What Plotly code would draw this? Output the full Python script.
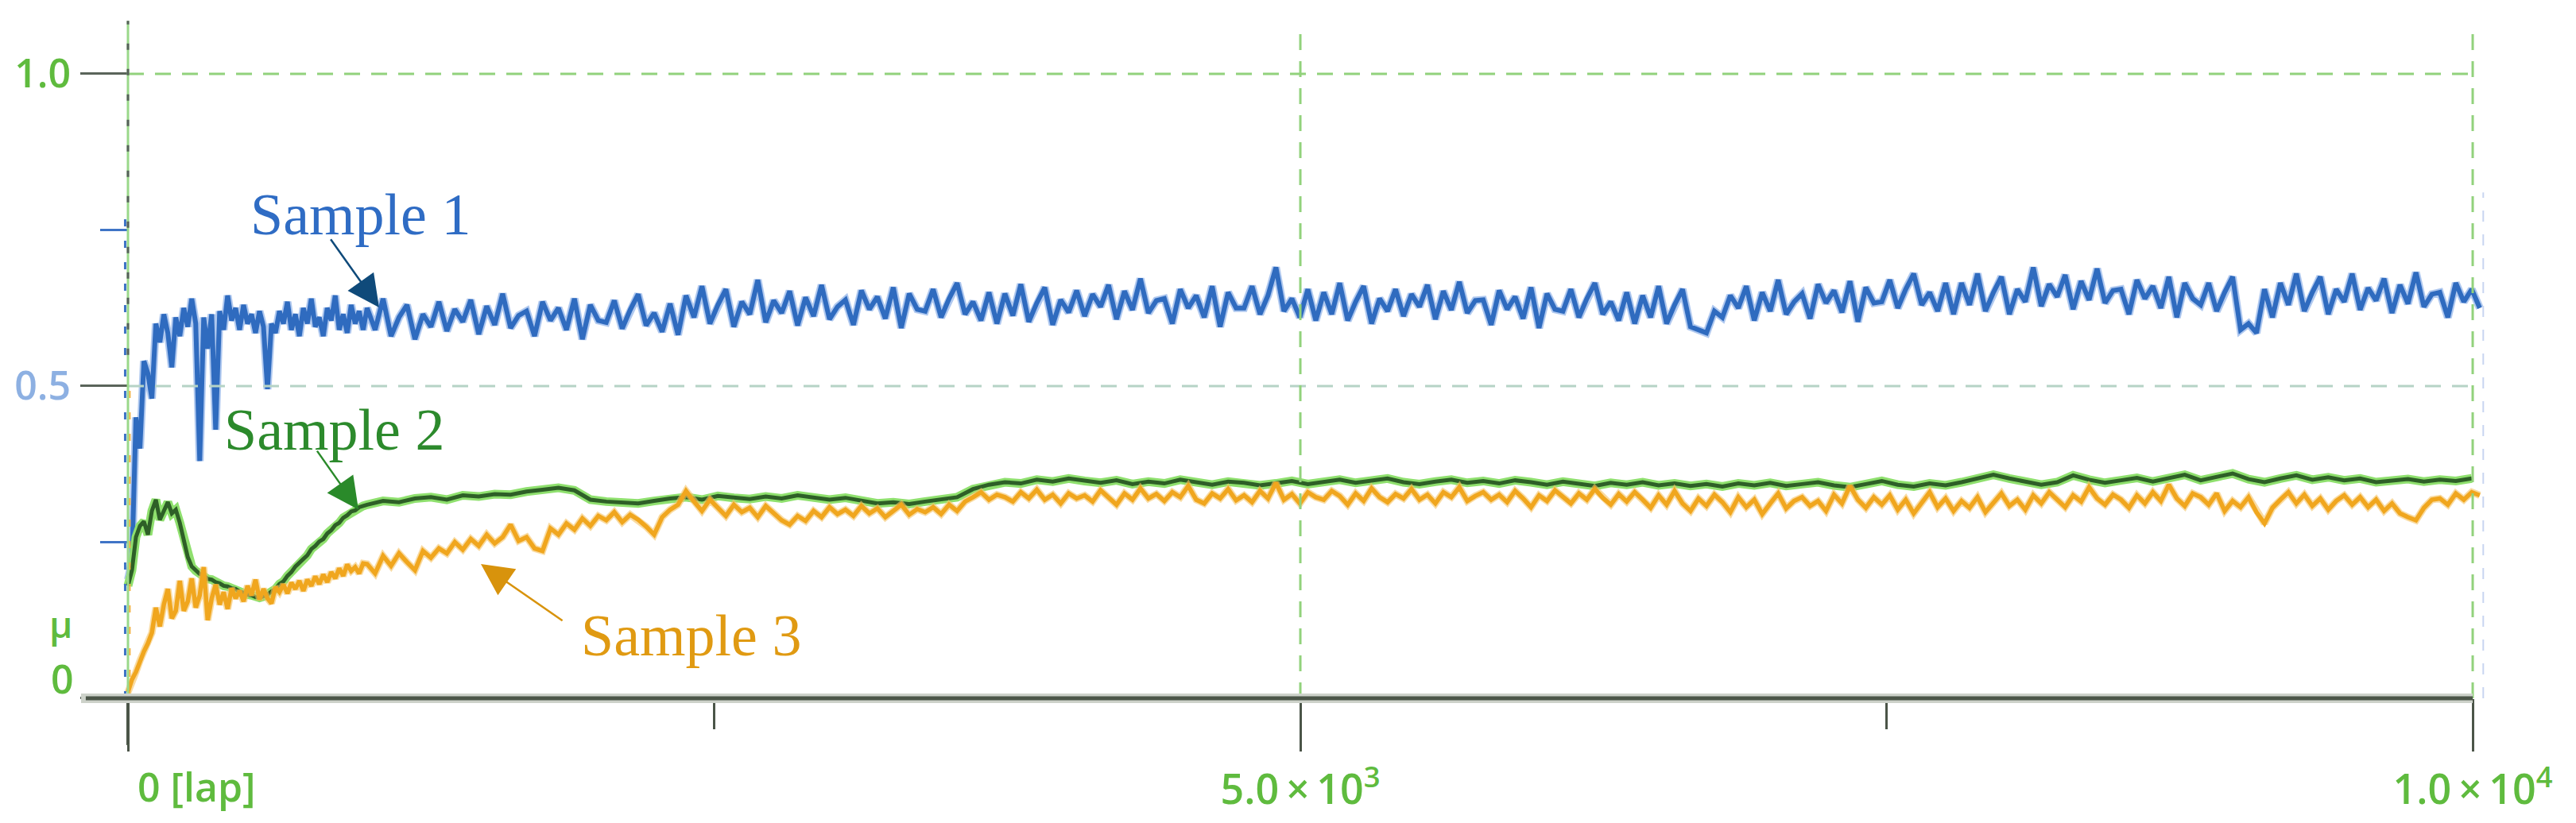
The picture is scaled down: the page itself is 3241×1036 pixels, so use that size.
import numpy as np
import plotly.graph_objects as go

# laps: first ~1000 laps read every 17 laps, the rest every 34 (sample 2 every 68)
EARLY_STEP = 17
LATE_START = 1020
LATE_STEP = 34
LATE_STEP_S2 = 68

# friction coefficient mu, in thousandths
s1_early = [190, 220, 450, 400, 540, 520, 480, 600, 570, 615,
            585, 530, 610, 580, 625, 595, 640, 600, 380, 610,
            560, 615, 430, 620, 590, 645, 605, 625, 590, 630,
            600, 615, 585, 620, 595, 495, 600, 585, 620, 600,
            635, 590, 615, 580, 625, 600, 640, 595, 610, 580,
            625, 605, 645, 590, 615, 585, 630, 600, 620, 590]
s1_late = [625, 590, 640, 580, 610, 630, 575, 615, 595, 635,
           588, 623, 603, 638, 583, 628, 598, 648, 593, 613,
           620, 580, 635, 605, 625, 590, 640, 575, 630, 605,
           602, 637, 592, 622, 647, 597, 617, 587, 632, 582,
           645, 610, 660, 600, 630, 655, 595, 635, 615, 670,
           602, 637, 617, 652, 597, 642, 612, 662, 607, 627,
           638, 598, 653, 623, 643, 608, 658, 593, 648, 623,
           620, 655, 610, 640, 665, 615, 635, 605, 650, 600,
           648, 613, 663, 603, 633, 658, 598, 638, 618, 653,
           612, 647, 627, 662, 607, 652, 622, 672, 617, 637,
           640, 600, 655, 625, 645, 610, 660, 595, 650, 625,
           625, 660, 615, 645, 690, 620, 640, 610, 655, 605,
           650, 615, 665, 605, 635, 660, 600, 640, 620, 655,
           612, 647, 627, 662, 607, 652, 622, 667, 617, 637,
           638, 598, 653, 623, 643, 608, 658, 593, 648, 623,
           620, 655, 610, 640, 665, 615, 635, 605, 650, 600,
           645, 610, 660, 600, 630, 655, 595, 590, 585, 620,
           610, 645, 625, 660, 605, 650, 620, 670, 615, 635,
           648, 608, 663, 633, 653, 618, 668, 603, 658, 633,
           635, 670, 625, 655, 680, 630, 650, 620, 665, 615,
           665, 630, 680, 620, 650, 675, 615, 655, 635, 690,
           628, 663, 643, 678, 623, 668, 638, 688, 633, 653,
           655, 615, 670, 640, 660, 625, 675, 610, 665, 640,
           630, 665, 620, 650, 675, 590, 600, 585, 655, 610,
           665, 630, 680, 620, 650, 675, 615, 655, 635, 680,
           622, 657, 637, 672, 617, 662, 632, 682, 627, 647,
           650, 610, 665, 635, 655, 625]

s2_early = [180, 205, 258, 276, 283, 262, 300, 318, 286, 301,
            314, 296, 302, 281, 254, 226, 211, 204, 199, 197,
            191, 190, 186, 184, 180, 179, 176, 175, 171, 169,
            166, 165, 162, 161, 163, 166, 171, 175, 183, 187,
            196, 202, 211, 216, 223, 229, 239, 244, 251, 255,
            264, 269, 277, 281, 289, 293, 299, 301, 306, 308]
s2_late = [310, 316, 314, 320, 322, 318, 325, 323, 327, 326,
           331, 334, 337, 333, 318, 315, 314, 312, 316, 320,
           322, 318, 324, 321, 319, 323, 320, 325, 322, 318,
           321, 316, 312, 314, 311, 315, 318, 322, 335, 342,
           346, 344, 350, 347, 352, 348, 345, 349, 343, 347,
           344, 350, 346, 342, 347, 345, 341, 344, 348, 343,
           346, 350, 345, 348, 352, 346, 343, 347, 350, 345,
           348, 344, 349, 346, 342, 347, 344, 340, 345, 342,
           346, 341, 344, 340, 343, 339, 344, 341, 345, 340,
           343, 346, 341, 338, 343, 348, 342, 339, 344, 341,
           346, 352, 358, 352, 347, 342, 346, 357, 350, 345,
           349, 353, 347, 352, 358, 349, 354, 360, 351, 346,
           352, 357, 350, 354, 349, 352, 346, 349, 351, 347,
           350, 348, 352]

s3_early = [10, 30, 42, 60, 75, 88, 105, 145, 115, 150,
            175, 128, 140, 188, 140, 155, 192, 145, 165, 210,
            125, 160, 182, 150, 170, 143, 176, 160, 172, 155,
            180, 165, 190, 158, 175, 160, 152, 178, 170, 182,
            168, 185, 175, 188, 172, 190, 180, 195, 183, 198,
            186, 202, 192, 208, 196, 214, 204, 210, 200, 216]
s3_late = [215, 200, 228, 212, 232, 218, 205, 236, 225, 240,
           232, 250, 238, 255, 244, 262, 248, 258, 278, 252,
           258, 240, 236, 272, 262, 280, 270, 288, 276, 292,
           285, 298, 282, 294, 286, 275, 262, 290, 302, 310,
           332, 315, 300, 318, 306, 292, 310, 298, 305, 290,
           308, 296, 285, 278, 292, 284, 300, 290, 306, 295,
           302, 292, 308, 296, 304, 290, 299, 310, 294, 303,
           298, 306, 295, 310, 300, 315, 322, 330, 318, 326,
           322, 315, 330, 320, 334, 318, 326, 312, 328, 320,
           325, 315, 333, 322, 310, 328, 318, 336, 320, 327,
           316, 330, 322, 340, 318, 312, 328, 320, 335, 317,
           325, 314, 332, 320, 345, 318, 327, 312, 330, 322,
           318, 332, 324, 310, 328, 316, 336, 322, 314, 327,
           320, 335, 318, 326, 312, 330, 322, 338, 316, 324,
           330, 318, 326, 314, 332, 320, 306, 325, 316, 333,
           322, 312, 328, 318, 335, 321, 310, 327, 315, 330,
           318, 305, 325, 310, 332, 312, 300, 320, 308, 326,
           314, 298, 322, 306, 318, 295, 312, 328, 304, 316,
           322, 308, 316, 300, 326, 312, 340, 318, 305, 322,
           310, 325, 302, 318, 296, 314, 330, 306, 320, 300,
           316, 305, 322, 298, 312, 328, 308, 318, 302, 325,
           312, 330, 318, 306, 325, 315, 338, 320, 310, 326,
           318, 305, 325, 312, 330, 316, 342, 320, 308, 328,
           322, 310, 328, 300, 316, 306, 322, 298, 280, 305,
           318, 330, 312, 326, 308, 320, 302, 316, 325, 310,
           322, 306, 318, 300, 312, 296, 290, 285, 305, 318,
           320, 310, 328, 318, 330, 325]

x_tickvals = [0, 5000, 10000]
x_ticktext = ["", "5.0\u2009×\u200910<sup>3</sup>", "1.0\u2009×\u200910<sup>4</sup>"]
x_minor = [2500, 7500]
y_tickvals = [0, 0.5, 1.0]
y_ticktext = ["", '<span style="color:#8db0e2">0.5</span>', "1.0"]
y_minor = [0.25, 0.75]

GREEN_TXT = "#5fbb3e"
AXIS = "#4b5548"


def laps(early, late, late_step):
    xe = np.arange(len(early)) * EARLY_STEP
    xl = LATE_START + np.arange(len(late)) * late_step
    return np.concatenate([xe, xl])


x1 = laps(s1_early, s1_late, LATE_STEP)
x2 = laps(s2_early, s2_late, LATE_STEP_S2)
x3 = laps(s3_early, s3_late, LATE_STEP)
y1 = np.array(s1_early + s1_late) / 1000
y2 = np.array(s2_early + s2_late) / 1000
y3 = np.array(s3_early + s3_late) / 1000

fig = go.Figure()

# sample 1 (soft edge + core)
fig.add_trace(go.Scatter(x=x1, y=y1, mode="lines", showlegend=False,
                         line=dict(color="rgba(110,155,225,0.55)", width=10)))
fig.add_trace(go.Scatter(x=x1, y=y1, mode="lines", name="Sample 1",
                         line=dict(color="#2f6bbf", width=6)))
# sample 2 (light halo + dark core)
fig.add_trace(go.Scatter(x=x2, y=y2, mode="lines", showlegend=False,
                         line=dict(color="#8fe06e", width=11)))
fig.add_trace(go.Scatter(x=x2, y=y2, mode="lines", name="Sample 2",
                         line=dict(color="#2e5f27", width=5)))
# sample 3
fig.add_trace(go.Scatter(x=x3, y=y3, mode="lines", showlegend=False,
                         line=dict(color="rgba(245,195,100,0.6)", width=9)))
fig.add_trace(go.Scatter(x=x3, y=y3, mode="lines", name="Sample 3",
                         line=dict(color="#f0a61e", width=5.5)))

shapes = []
# dashed grid
shapes.append(dict(type="line", x0=0, x1=10000, y0=1.0, y1=1.0,
                   line=dict(color="#92d27c", width=3, dash="20px,14px")))
shapes.append(dict(type="line", x0=0, x1=10000, y0=0.5, y1=0.5,
                   line=dict(color="#b6d3c6", width=3, dash="20px,14px")))
for xv in [5000, 10000]:
    shapes.append(dict(type="line", x0=xv, x1=xv, y0=0, y1=1.07,
                       line=dict(color="#92d27c", width=3, dash="20px,14px")))
shapes.append(dict(type="line", x0=10045, x1=10045, y0=0, y1=0.81,
                   line=dict(color="#c8d5f0", width=2, dash="14px,16px")))
# y axis
shapes.append(dict(type="line", x0=0, x1=0, y0=-0.075, y1=1.085,
                   line=dict(color="#9ad88a", width=3)))
shapes.append(dict(type="line", x0=0, x1=0, y0=0.55, y1=1.085,
                   line=dict(color="#56605a", width=3, dash="8px,24px")))
shapes.append(dict(type="line", x0=-12, x1=-12, y0=0.0, y1=0.78,
                   line=dict(color="#3f74c6", width=3, dash="9px,18px")))
shapes.append(dict(type="line", x0=8, x1=8, y0=0.0, y1=0.5,
                   line=dict(color="#f0b040", width=2, dash="9px,18px")))
shapes.append(dict(type="line", x0=0, x1=0, y0=-0.075, y1=0,
                   line=dict(color=AXIS, width=4)))
# x axis
shapes.append(dict(type="line", x0=-200, x1=10000, y0=0, y1=0,
                   line=dict(color="#cdd2ca", width=12)))
shapes.append(dict(type="line", x0=-180, x1=10000, y0=0, y1=0,
                   line=dict(color=AXIS, width=5)))

annotations = []
tick_font = dict(family="Open Sans", size=50, color=GREEN_TXT, weight=600)
annotations.append(dict(x=0, y=-0.141, xref="x", yref="y", text="0 [lap]",
                        showarrow=False, xanchor="left", yanchor="middle",
                        xshift=10,
                        font=dict(family="Open Sans", size=50, color=GREEN_TXT, weight=600)))
annotations.append(dict(x=0, y=0.032, xref="x", yref="y", text="0",
                        showarrow=False, xanchor="right", yanchor="middle",
                        xshift=-66, font=tick_font))
annotations.append(dict(x=0, y=0.12, xref="x", yref="y", text="μ",
                        showarrow=False, xanchor="right", yanchor="middle",
                        xshift=-68,
                        font=dict(family="Open Sans", size=46, color=GREEN_TXT, weight=600)))

serif = "Liberation Serif"
annotations.append(dict(x=990, y=0.775, text="Sample 1", showarrow=False,
                        font=dict(family=serif, size=74, color="#2f6cc4")))
annotations.append(dict(x=880, y=0.43, text="Sample 2", showarrow=False,
                        font=dict(family=serif, size=74, color="#2c8a2c")))
annotations.append(dict(x=2400, y=0.10, text="Sample 3", showarrow=False,
                        font=dict(family=serif, size=74, color="#e09a12")))

# arrows: (tip x, tip y, tail x, tail y, colour)
arrows = [(1071, 0.626, 861, 0.737, "#0f4a7a"),
          (983, 0.302, 803, 0.398, "#2a8a2a"),
          (1505, 0.215, 1858, 0.123, "#d8930c")]
for tx, ty, sx, sy, col in arrows:
    annotations.append(dict(x=tx, y=ty, ax=sx, ay=sy, xref="x", yref="y",
                            axref="x", ayref="y", text="", showarrow=True,
                            arrowhead=2, arrowsize=3.2, arrowwidth=2.5,
                            arrowcolor=col))

fig.update_layout(
    width=3241, height=1036,
    margin=dict(l=0, r=0, t=0, b=0),
    paper_bgcolor="white", plot_bgcolor="white",
    showlegend=False,
    shapes=shapes, annotations=annotations,
    xaxis=dict(range=[-545.8, 10440.6], anchor="free", position=0.1515,
               showgrid=False, zeroline=False, showline=False,
               tickmode="array", tickvals=x_tickvals, ticktext=x_ticktext,
               ticks="outside", ticklen=66, tickwidth=3, tickcolor=AXIS,
               tickfont=dict(family="Open Sans", size=52, color=GREEN_TXT, weight=600),
               ticklabelstandoff=4,
               minor=dict(tickmode="array", tickvals=x_minor, ticks="outside",
                          ticklen=38, tickwidth=3, tickcolor=AXIS, showgrid=False),
               automargin=False),
    yaxis=dict(range=[-0.1998, 1.1183], anchor="free", position=0.0497,
               showgrid=False, zeroline=False, showline=False,
               tickmode="array", tickvals=y_tickvals, ticktext=y_ticktext,
               ticks="outside", ticklen=60, tickwidth=3, tickcolor="#5a645a",
               tickfont=tick_font, ticklabelstandoff=2,
               minor=dict(tickmode="array", tickvals=y_minor, ticks="outside",
                          ticklen=35, tickwidth=3, tickcolor="#3f74c6", showgrid=False),
               automargin=False),
)

fig.write_html("out.html", config={"displayModeBar": False},
               post_script="document.body.style.margin='0';")
